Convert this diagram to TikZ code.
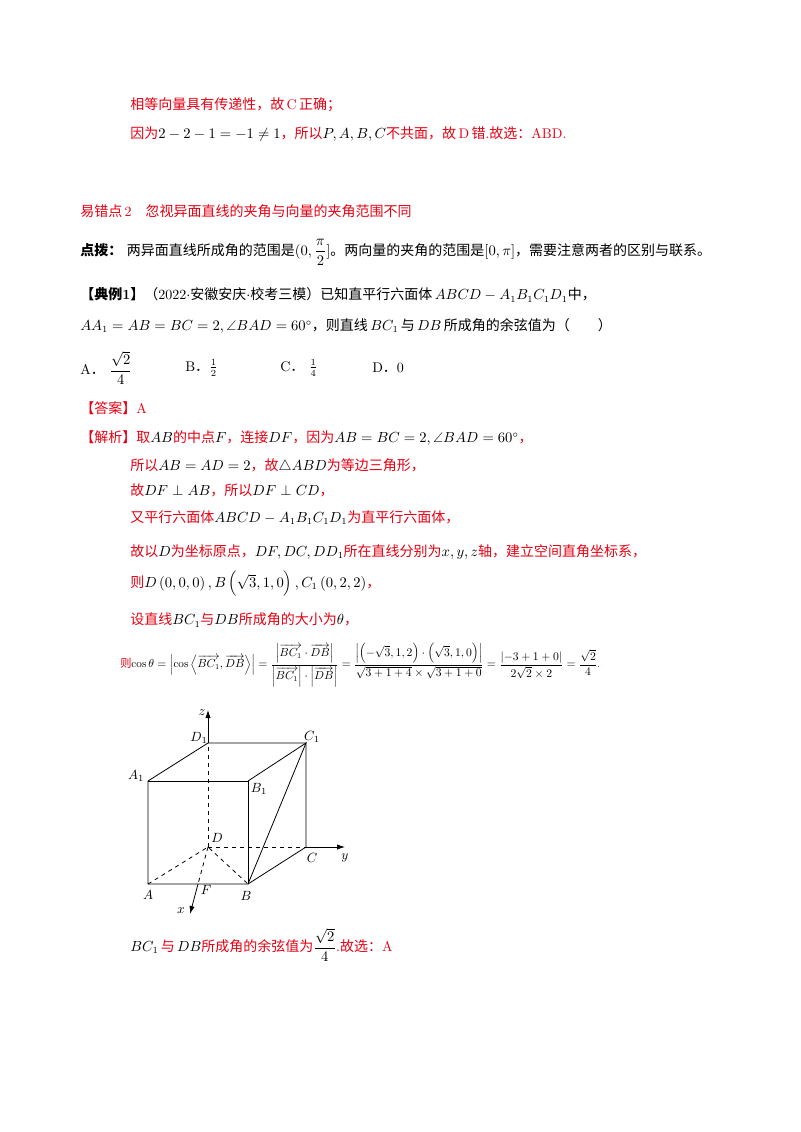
\documentclass[tikz,border=0pt]{standalone}
\usepackage{amsmath}
\usepackage{amssymb}
\usepackage{fontspec}
\newfontfamily\cjk{Noto Sans CJK SC}
\usetikzlibrary{calc}
\usetikzlibrary{arrows.meta}
\usepackage{color}
\definecolor{ansred}{RGB}{230,0,18}
\newcommand{\zh}[1]{{\cjk #1}}
\newcommand{\vv}[1]{\overrightarrow{#1}}

\begin{document}
\begin{tikzpicture}[x=0.75pt, y=-0.75pt,
  line/.style={anchor=west, inner sep=0pt, font=\fontsize{10.5}{12}\selectfont},
  red line/.style={line, text=ansred},
  edge/.style={line width=0.6pt},
  hidden/.style={line width=0.6pt, dashed},
  axis/.style={line width=0.6pt, -{Latex[length=6pt,width=4pt]}},
  lbl/.style={font=\fontsize{10}{11}\selectfont\itshape, inner sep=1pt}]

\useasboundingbox (0,0) rectangle (800,1132);

% previous answer
\node [red line] (prev1) at (130, 105) {\zh{相等向量具有传递性，故}\,C\,\zh{正确；}};
\node [red line] (prev2) at (130, 134) {\zh{因为}\textcolor{black}{$2-2-1=-1\neq1$}\zh{，所以}\textcolor{black}{$P,A,B,C$}\zh{不共面，故}\,D\,\zh{错}.\zh{故选：}ABD.};

% heading
\node [red line] (title) at (80, 211) {\zh{易错点}\,2\quad\zh{忽视异面直线的夹角与向量的夹角范围不同}};
\node [line] (hint) at (80, 252) {{\cjk\bfseries 点拨：}\ \zh{两异面直线所成角的范围是}$(0,\dfrac{\pi}{2}]$\zh{。两向量的夹角的范围是}$[0,\pi]$\zh{，需要注意两者的区别与联系。}};

% example
\node [line] (ex1) at (80, 295) {{\cjk\bfseries 【典例}\textbf{1}{\cjk\bfseries 】}\zh{（}2022$\cdot$\zh{安徽安庆}$\cdot$\zh{校考三模）已知直平行六面体}\,$ABCD-A_1B_1C_1D_1$\zh{中，}};
\node [line] (ex2) at (80, 326) {$AA_1=AB=BC=2,\angle BAD=60^\circ$\zh{，则直线}\,$BC_1$\,\zh{与}\,$DB$\,\zh{所成角的余弦值为（\qquad）}};
\node [line] (optA) at (80, 368) {A\zh{．}\ $\dfrac{\sqrt2}{4}$};
\node [line] (optB) at (185, 368) {B\zh{．}$\tfrac12$};
\node [line] (optC) at (280, 368) {C\zh{．}\ $\tfrac14$};
\node [line] (optD) at (372, 368) {D\zh{．}0};

% solution
\node [red line] (ans) at (80, 408) {\zh{【答案】}A};
\node [red line] (sol1) at (80, 438) {\zh{【解析】取}\textcolor{black}{$AB$}\zh{的中点}\textcolor{black}{$F$}\zh{，连接}\textcolor{black}{$DF$}\zh{，因为}\textcolor{black}{$AB=BC=2,\angle BAD=60^\circ$}\zh{，}};
\node [red line] (sol2) at (130, 466) {\zh{所以}\textcolor{black}{$AB=AD=2$}\zh{，故}\textcolor{black}{$\triangle ABD$}\zh{为等边三角形，}};
\node [red line] (sol3) at (130, 490) {\zh{故}\textcolor{black}{$DF\perp AB$}\zh{，所以}\textcolor{black}{$DF\perp CD$}\zh{，}};
\node [red line] (sol4) at (130, 518) {\zh{又平行六面体}\textcolor{black}{$ABCD-A_1B_1C_1D_1$}\zh{为直平行六面体，}};
\node [red line] (sol5) at (130, 552) {\zh{故以}\textcolor{black}{$D$}\zh{为坐标原点，}\textcolor{black}{$DF,DC,DD_1$}\zh{所在直线分别为}\textcolor{black}{$x,y,z$}\zh{轴，建立空间直角坐标系，}};
\node [red line] (sol6) at (130, 584) {\zh{则}\textcolor{black}{$D\left(0,0,0\right),B\left(\sqrt3,1,0\right),C_1\left(0,2,2\right)$}\zh{，}};
\node [red line] (sol7) at (130, 620) {\zh{设直线}\textcolor{black}{$BC_1$}\zh{与}\textcolor{black}{$DB$}\zh{所成角的大小为}\textcolor{black}{$\theta$}\zh{，}};
\node [red line] (sol8) at (120, 665) {\resizebox{360pt}{!}{\zh{则}\textcolor{black}{$\cos\theta=\left|\cos\left\langle\vv{BC_1},\vv{DB}\right\rangle\right|=\dfrac{\left|\vv{BC_1}\cdot\vv{DB}\right|}{\left|\vv{BC_1}\right|\cdot\left|\vv{DB}\right|}=\dfrac{\left|\left(-\sqrt3,1,2\right)\cdot\left(\sqrt3,1,0\right)\right|}{\sqrt{3+1+4}\times\sqrt{3+1+0}}=\dfrac{\left|-3+1+0\right|}{2\sqrt2\times2}=\dfrac{\sqrt2}{4}$}.}};

% cube
\coordinate (A) at (148, 884);
\coordinate (B) at (248, 884);
\coordinate (C) at (306, 847);
\coordinate (D) at (208, 847);
\coordinate (A1) at (148, 781);
\coordinate (B1) at (248, 781);
\coordinate (C1) at (306, 743);
\coordinate (D1) at (208, 743);
\coordinate (zEnd) at (208, 710);
\coordinate (yEnd) at (345, 847);
\coordinate (xEnd) at (190, 914);
\coordinate (F) at ($(A)!0.5!(B)$);

\draw [edge] (A) -- (B) -- (C) -- (C1) -- (D1) -- (A1) -- cycle;
\draw [edge] (A1) -- (B1) -- (B);
\draw [edge] (B1) -- (C1) -- (B);
\draw [hidden] (A) -- (D) -- (B);
\draw [hidden] (D) -- (C);
\draw [hidden] (D) -- (D1);
\draw [hidden] (D) -- (F);
\draw [axis] (D1) -- (zEnd);
\draw [axis] (C) -- (yEnd);
\draw [axis] (F) -- (xEnd);

\node [lbl] (lA) at (148, 895) {$A$};
\node [lbl] (lB) at (246, 896) {$B$};
\node [lbl] (lC) at (312, 858) {$C$};
\node [lbl] (lD) at (217, 838) {$D$};
\node [lbl] (lF) at (206, 890) {$F$};
\node [lbl] (lA1) at (136, 776) {$A_1$};
\node [lbl] (lB1) at (259, 789) {$B_1$};
\node [lbl] (lC1) at (312, 737) {$C_1$};
\node [lbl] (lD1) at (199, 738) {$D_1$};
\node [lbl] (lx) at (181, 911) {$x$};
\node [lbl] (ly) at (345, 858) {$y$};
\node [lbl] (lz) at (202, 713) {$z$};

\node [red line] (final) at (130, 945) {\textcolor{black}{$BC_1$}\,\zh{与}\,\textcolor{black}{$DB$}\zh{所成角的余弦值为}\textcolor{black}{$\dfrac{\sqrt2}{4}$}.\zh{故选：}A};

\end{tikzpicture}
\end{document}
